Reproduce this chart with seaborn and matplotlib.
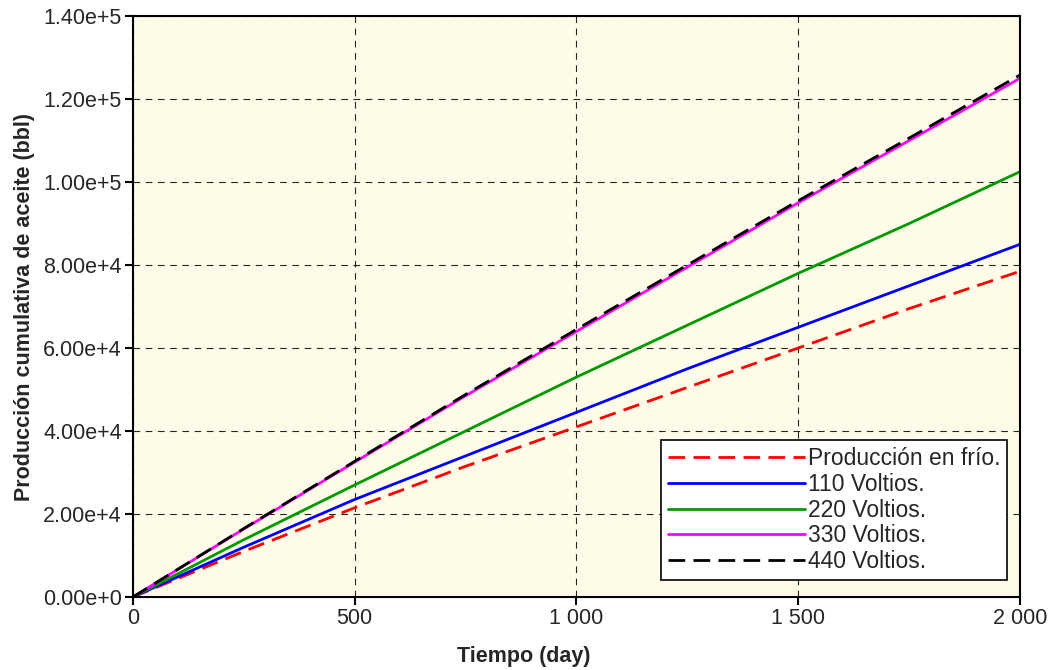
import numpy as np
import pandas as pd
import seaborn as sns
import matplotlib.pyplot as plt
from matplotlib.ticker import FuncFormatter

# tiempo (day) and cumulative oil for each case
dias = [0, 250, 500, 750, 1000, 1250, 1500, 1750, 2000]
frio = [0, 11000, 21500, 31500, 41000, 50500, 60000, 69500, 78500]
v110 = [0, 12000, 23500, 34000, 44500, 55000, 65000, 75000, 85000]
v220 = [0, 13800, 27000, 40000, 53000, 65500, 78000, 90000, 102500]
v330 = [0, 16400, 32500, 48500, 64000, 79500, 95000, 110000, 125000]
v440 = [0, 16500, 32700, 48800, 64500, 80000, 95500, 110600, 125800]

nombres = ['Producción en frío.', '110 Voltios.', '220 Voltios.', '330 Voltios.', '440 Voltios.']
colores = ['#FF0000', '#0000FF', '#009900', '#FF00FF', '#000000']
estilos = [(6, 3), '', '', '', (6, 3)]

df = pd.DataFrame({'dia': dias * 5,
                   'valor': frio + v110 + v220 + v330 + v440,
                   'caso': sum([[n] * len(dias) for n in nombres], [])})

sns.set_style('ticks')
plt.rcParams['font.family'] = ['Liberation Sans', 'DejaVu Sans']

fig = plt.figure(figsize=(10.57, 6.70), dpi=100)
ax = fig.add_axes([0.1258, 0.109, 0.8392, 0.867])
ax.set_facecolor('#FEFBE8')

sns.lineplot(data=df, x='dia', y='valor', hue='caso', style='caso',
             palette=dict(zip(nombres, colores)), dashes=dict(zip(nombres, estilos)),
             linewidth=2.0, ax=ax)

ax.set_xlim(0, 2000)
ax.set_ylim(0, 140000)
ax.set_xticks([0, 500, 1000, 1500, 2000])
ax.set_yticks(np.arange(0, 140001, 20000))
ax.xaxis.set_major_formatter(FuncFormatter(lambda v, p: f'{int(v):,}'.replace(',', ' ')))
ax.yaxis.set_major_formatter(FuncFormatter(lambda v, p: '0.00e+0' if v == 0 else f'{v/1e5:.2f}e+5' if v >= 1e5 else f'{v/1e4:.2f}e+4'))
ax.tick_params(labelsize=15.5, length=6, width=1.5, direction='out', color='black', pad=2)
ax.grid(True, color='black', linestyle=(0, (6, 5)), linewidth=0.8, alpha=0.85)
for s in ax.spines.values():
    s.set_linewidth(1.5)
    s.set_color('black')

ax.set_xlabel('Tiempo (day)', fontsize=15.5, fontweight='bold')
ax.set_ylabel('Producción cumulativa de aceite (bbl)', fontsize=15.5, fontweight='bold', labelpad=6)
ax.xaxis.set_label_coords(0.441, -0.085)

leg = ax.legend(loc='lower right', fontsize=16.5, handlelength=6.0, handletextpad=0.1,
                labelspacing=0.12, borderpad=0.3, borderaxespad=0, fancybox=False, framealpha=1,
                edgecolor='black', bbox_to_anchor=(0.9853, 0.0293))
leg.get_frame().set_linewidth(1.2)

fig.savefig('out.png', dpi=100)
